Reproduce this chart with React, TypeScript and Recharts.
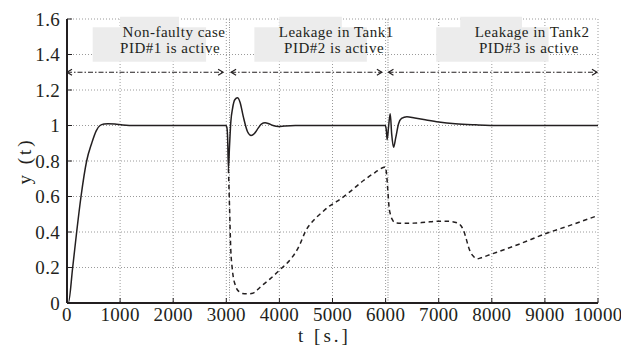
import React from 'react';
import {
  LineChart,
  Line,
  XAxis,
  YAxis,
  CartesianGrid,
  ReferenceArea,
  ReferenceLine,
  ReferenceDot,
} from 'recharts';

const FONT = "'Liberation Serif', serif";
const INK = '#231f20';

// ---- ticks ----
const xTicks = [0, 1000, 2000, 3000, 4000, 5000, 6000, 7000, 8000, 9000, 10000];
const yTicks = [0, 0.2, 0.4, 0.6, 0.8, 1, 1.2, 1.4, 1.6];

// ---- solid series: y(t) ----
const outputTime = [
  0, 25, 107, 182, 264, 370, 465, 550, 622, 700, 773, 900, 1050, 1300, 2990,
  3010, 3025, 3040, 3060, 3085, 3120, 3160, 3210, 3260, 3320, 3400, 3467, 3530,
  3600, 3660, 3731, 3800, 3880, 3982, 4100, 4300, 5995,
  6015, 6030, 6055, 6087, 6115, 6150, 6190, 6244, 6300, 6401, 6550, 6746, 7000,
  7311, 7700, 8160, 10000,
];
const outputValue = [
  0, 0, 0.2, 0.4, 0.6, 0.8, 0.9, 0.97, 1.0, 1.008, 1.01, 1.008, 1.003, 1.0, 1.0,
  0.99, 0.93, 0.756, 0.88, 1.02, 1.1, 1.145, 1.156, 1.13, 1.05, 0.965, 0.944, 0.955,
  0.985, 1.008, 1.015, 1.01, 1.0, 0.994, 0.997, 1.0, 1.0,
  0.97, 0.92, 0.99, 1.066, 0.95, 0.878, 0.93, 1.01, 1.04, 1.05, 1.042, 1.032, 1.02,
  1.01, 1.004, 1.0, 1.0,
];

// ---- dashed series ----
const dashedTime = [
  3040, 3060, 3085, 3110, 3132, 3165, 3197, 3250, 3300, 3400, 3500, 3637, 3825,
  3995, 4233, 4327, 4390, 4485, 4640, 4800, 4956, 5082, 5300, 5584, 5800, 5970,
  5995, 6020, 6045, 6065, 6090, 6130, 6181, 6350, 6527, 6750, 6998, 7200, 7343,
  7420, 7469, 7520, 7563, 7620, 7657, 7720, 7800, 7970, 8500, 9007, 9500, 10000,
];
const dashedValue = [
  0.756, 0.55, 0.296, 0.2, 0.145, 0.105, 0.08, 0.062, 0.054, 0.052, 0.055, 0.089, 0.136,
  0.183, 0.255, 0.296, 0.333, 0.4, 0.465, 0.51, 0.549, 0.572, 0.62, 0.69, 0.735, 0.765,
  0.766, 0.72, 0.62, 0.54, 0.5, 0.468, 0.452, 0.449, 0.45, 0.455, 0.461, 0.46, 0.452,
  0.435, 0.408, 0.36, 0.314, 0.275, 0.262, 0.249, 0.255, 0.273, 0.33, 0.39, 0.44, 0.493,
];

// ---- annotations ----
const switchTimes = [3060, 6045];
const modeStart = [0, 3090, 6054];
const modeEnd = [2940, 5930, 9981];
const modeLevel = 1.3;
const boxLeft = [484, 3529, 6953];
const boxRight = [2619, 5647, 9069];
const capLeft = [999, 3995, 7405];
const capRight = [2110, 5176, 8568];
const line1Text = ['Non-faulty case', 'Leakage in Tank1', 'Leakage in Tank2'];
const line2Text = ['PID#1 is active', 'PID#2 is active', 'PID#3 is active'];
const line1Center = [2016, 5070, 8760];
const line2Center = [1941, 5030, 8700];

const outputData = outputTime.map((t, i) => ({ t, v: outputValue[i] }));
const dashedData = dashedTime.map((t, i) => ({ t, v: dashedValue[i] }));

const fmtY = (v: number) => String(Number(v.toFixed(1)));

const textStyle = (size: number, spacing: number) => ({
  fontFamily: FONT,
  fontSize: size,
  letterSpacing: spacing,
  fill: INK,
});

const BottomTick = (props: any) => {
  const { x, y, payload } = props;
  return (
    <g>
      <line x1={x} x2={x} y1={y - 4} y2={y - 9} stroke={INK} strokeWidth={1} />
      <text x={x} y={y} dy="0.72em" textAnchor="middle" style={textStyle(19, 0.3)}>
        {payload.value}
      </text>
    </g>
  );
};

const TopTick = (props: any) => {
  const { x, y } = props;
  return <line x1={x} x2={x} y1={y} y2={y + 5} stroke={INK} strokeWidth={1} />;
};

const LeftTick = (props: any) => {
  const { x, y, payload } = props;
  return (
    <g>
      <line x1={x + 7} x2={x + 12} y1={y} y2={y} stroke={INK} strokeWidth={1} />
      <text x={x} y={y} dy="0.35em" textAnchor="end" style={textStyle(19, 0.3)}>
        {fmtY(payload.value)}
      </text>
    </g>
  );
};

const RightTick = (props: any) => {
  const { x, y } = props;
  return <line x1={x} x2={x - 5} y1={y} y2={y} stroke={INK} strokeWidth={1} />;
};

const ArrowSegment = (props: any) => {
  const { x1, y1, x2, y2 } = props;
  const a = 5;
  const h = 3;
  return (
    <g>
      <line x1={x1} y1={y1} x2={x2} y2={y2} stroke={INK} strokeWidth={1.2} strokeDasharray="5 2 1.5 2" />
      <polyline points={`${x1 + a},${y1 - h} ${x1},${y1} ${x1 + a},${y1 + h}`} fill="none" stroke={INK} strokeWidth={1.2} />
      <polyline points={`${x2 - a},${y2 - h} ${x2},${y2} ${x2 - a},${y2 + h}`} fill="none" stroke={INK} strokeWidth={1.2} />
    </g>
  );
};

const makeTextShape = (label: string) => (props: any) => {
  const { cx, cy } = props;
  return (
    <text x={cx} y={cy} textAnchor="middle" style={textStyle(15, 0.5)}>
      {label}
    </text>
  );
};

export default function App() {
  return (
    <div style={{ position: 'absolute', left: 0, top: 0, background: '#fff' }}>
      <LineChart
        width={621}
        height={347}
        margin={{ top: 19, right: 23, bottom: 0, left: 0 }}
      >
        <CartesianGrid
          xAxisId="x"
          yAxisId="y"
          stroke="#9a9a9a"
          strokeDasharray="1 2"
          strokeWidth={1}
        />
        <XAxis
          xAxisId="x"
          dataKey="t"
          type="number"
          domain={[0, 10000]}
          ticks={xTicks}
          allowDataOverflow
          height={44}
          tickSize={0}
          tickMargin={4}
          tickLine={false}
          axisLine={{ stroke: INK, strokeWidth: 2 }}
          tick={<BottomTick />}
          interval={0}
          label={{
            content: (p: any) => {
              const vb = p.viewBox;
              return (
                <text x={vb.x + vb.width / 2 - 8} y={342} textAnchor="middle" style={textStyle(19, 3)}>
                  t [s.]
                </text>
              );
            },
          }}
        />
        <XAxis
          xAxisId="xt"
          orientation="top"
          dataKey="t"
          type="number"
          domain={[0, 10000]}
          ticks={xTicks}
          allowDataOverflow
          height={0}
          tickSize={0}
          tickMargin={0}
          tickLine={false}
          axisLine={{ stroke: INK, strokeWidth: 1.5 }}
          tick={<TopTick />}
          interval={0}
        />
        <YAxis
          yAxisId="y"
          type="number"
          domain={[0, 1.6]}
          ticks={yTicks}
          allowDataOverflow
          width={67}
          tickSize={0}
          tickMargin={7}
          tickLine={false}
          axisLine={{ stroke: INK, strokeWidth: 2 }}
          tick={<LeftTick />}
          interval={0}
          label={{
            content: (p: any) => {
              const vb = p.viewBox;
              const cx = 31;
              const cy = vb.y + vb.height / 2;
              return (
                <text x={cx} y={cy} transform={`rotate(-90 ${cx} ${cy})`} textAnchor="middle" style={textStyle(19, 3)}>
                  y (t)
                </text>
              );
            },
          }}
        />
        <YAxis
          yAxisId="yr"
          orientation="right"
          type="number"
          domain={[0, 1.6]}
          ticks={yTicks}
          allowDataOverflow
          width={0}
          tickSize={0}
          tickMargin={0}
          tickLine={false}
          axisLine={{ stroke: INK, strokeWidth: 2 }}
          tick={<RightTick />}
          interval={0}
        />

        {switchTimes.map((s) => (
          <ReferenceLine
            key={`sw${s}`}
            xAxisId="x"
            yAxisId="y"
            x={s}
            stroke="#8a8a8a"
            strokeDasharray="1 1.5"
            strokeWidth={1}
          />
        ))}

        {boxLeft.map((b, i) => (
          <ReferenceArea
            key={`box${i}`}
            xAxisId="x"
            yAxisId="y"
            x1={b}
            x2={boxRight[i]}
            y1={1.359}
            y2={1.553}
            fill="#ececec"
            fillOpacity={1}
            stroke="none"
            ifOverflow="visible"
          />
        ))}
        {capLeft.map((b, i) => (
          <ReferenceArea
            key={`cap${i}`}
            xAxisId="x"
            yAxisId="y"
            x1={b}
            x2={capRight[i]}
            y1={1.55}
            y2={1.612}
            fill="#ececec"
            fillOpacity={1}
            stroke="none"
            ifOverflow="visible"
          />
        ))}

        {modeStart.map((s, i) => (
          <ReferenceLine
            key={`mode${i}`}
            xAxisId="x"
            yAxisId="y"
            segment={[
              { x: s, y: modeLevel },
              { x: modeEnd[i], y: modeLevel },
            ]}
            shape={<ArrowSegment />}
            ifOverflow="visible"
          />
        ))}

        {line1Text.map((txt, i) => (
          <ReferenceDot
            key={`l1${i}`}
            xAxisId="x"
            yAxisId="y"
            x={line1Center[i]}
            y={1.497}
            r={0}
            shape={makeTextShape(txt)}
            ifOverflow="visible"
          />
        ))}
        {line2Text.map((txt, i) => (
          <ReferenceDot
            key={`l2${i}`}
            xAxisId="x"
            yAxisId="y"
            x={line2Center[i]}
            y={1.41}
            r={0}
            shape={makeTextShape(txt)}
            ifOverflow="visible"
          />
        ))}

        <Line
          xAxisId="x"
          yAxisId="y"
          data={dashedData}
          dataKey="v"
          type="monotone"
          stroke={INK}
          strokeWidth={1.5}
          strokeDasharray="4.5 3.5"
          dot={false}
          activeDot={false}
          isAnimationActive={false}
        />
        <Line
          xAxisId="x"
          yAxisId="y"
          data={outputData}
          dataKey="v"
          type="monotone"
          stroke={INK}
          strokeWidth={1.5}
          dot={false}
          activeDot={false}
          isAnimationActive={false}
        />
      </LineChart>
    </div>
  );
}
